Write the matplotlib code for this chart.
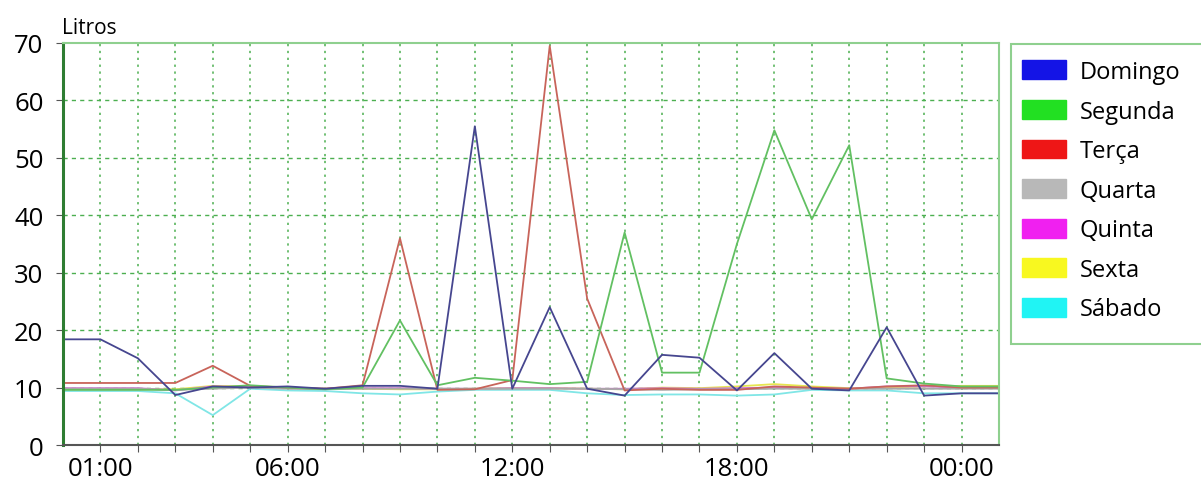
import matplotlib.pyplot as plt
from matplotlib.patches import Patch, Rectangle

# hora (0..25) e consumo em litros por dia da semana
hours = list(range(26))

domingo = [18.4, 18.4, 15.1, 8.7, 10.2, 10.0, 10.2, 9.8, 10.3, 10.3, 9.8, 55.5, 9.8,
           24.0, 9.8, 8.6, 15.7, 15.2, 9.5, 16.0, 9.8, 9.5, 20.5, 8.6, 9.0, 9.0]
segunda = [9.6, 9.6, 9.6, 9.6, 10.0, 10.4, 10.0, 9.7, 10.0, 21.7, 10.4, 11.7, 11.2,
           10.6, 11.0, 37.0, 12.6, 12.6, 35.0, 54.8, 39.3, 52.2, 11.6, 10.7, 10.2, 10.2]
terca = [10.8, 10.8, 10.8, 10.8, 13.8, 10.3, 10.0, 9.8, 10.4, 36.0, 9.6, 9.7, 11.3,
         69.5, 25.5, 9.5, 9.8, 9.6, 9.6, 10.2, 10.0, 9.8, 10.2, 10.4, 10.0, 10.0]
quarta = [9.8, 9.8, 9.8, 9.6, 9.8, 10.0, 9.8, 9.7, 9.8, 9.8, 9.8, 9.8, 9.8,
          9.8, 9.8, 9.7, 9.6, 9.7, 9.7, 9.8, 9.8, 9.8, 9.8, 9.8, 9.8, 9.8]
quinta = [9.9, 9.9, 9.9, 9.5, 10.2, 10.1, 9.9, 9.8, 9.9, 9.9, 9.8, 9.8, 9.9,
          9.9, 9.8, 9.8, 9.9, 9.8, 9.9, 10.0, 9.9, 9.8, 10.2, 10.2, 10.0, 10.0]
sexta = [9.7, 9.7, 9.7, 9.7, 10.3, 10.2, 9.9, 9.8, 9.8, 9.7, 9.7, 9.8, 9.9,
         9.9, 9.8, 9.7, 10.0, 9.9, 10.2, 10.6, 10.2, 9.9, 10.0, 10.2, 10.3, 10.3]
sabado = [9.4, 9.4, 9.4, 9.0, 5.2, 9.8, 9.5, 9.4, 9.0, 8.8, 9.3, 9.6, 9.6,
          9.6, 9.0, 8.7, 8.8, 8.8, 8.6, 8.8, 9.6, 9.5, 9.5, 9.0, 9.0, 9.0]

tick_hours = list(range(1, 25))
tick_labels = ["01:00" if h == 1 else "06:00" if h == 6 else "12:00" if h == 12
               else "18:00" if h == 18 else "00:00" if h == 24 else "" for h in tick_hours]

days = ["Domingo", "Segunda", "Terça", "Quarta", "Quinta", "Sexta", "Sábado"]
series = [domingo, segunda, terca, quarta, quinta, sexta, sabado]
line_colors = ["#46468f", "#62c062", "#c8645a", "#a8a8a8", "#d070d0", "#e6e650", "#80e6e6"]
legend_colors = ["#1414e6", "#22e022", "#ee1616", "#b8b8b8", "#f020f0", "#f8f820", "#20f4f4"]

plt.rcParams["font.family"] = ["Open Sans", "DejaVu Sans"]

fig = plt.figure(figsize=(12.01, 4.81), dpi=100)
ax = fig.add_axes([63 / 1201, 1 - 446 / 481, (999 - 63) / 1201, (446 - 44) / 481])

# ordem de desenho: linhas planas primeiro, picos por cima
for i in [6, 5, 4, 3, 2, 1, 0]:
    ax.plot(hours, series[i], color=line_colors[i], linewidth=1.3)

ax.set_xlim(0, 25)
ax.set_ylim(0, 70)
ax.set_xticks(tick_hours)
ax.set_xticklabels(tick_labels)
ax.set_yticks(range(0, 80, 10))

ax.tick_params(axis="both", labelsize=18.5, length=5, color="#555555")
ax.tick_params(axis="x", pad=3)
ax.tick_params(axis="y", pad=9)

for h in tick_hours:
    ax.axvline(h, color="#4caf50", linestyle=(0, (1.5, 3)), linewidth=1.1, zorder=0)
for v in range(10, 70, 10):
    ax.axhline(v, color="#4caf50", linestyle=(0, (3, 3)), linewidth=1.0, zorder=0)

ax.spines["left"].set_color("#2e7d32")
ax.spines["left"].set_linewidth(2.2)
ax.spines["bottom"].set_color("#555555")
ax.spines["bottom"].set_linewidth(1.5)
ax.spines["top"].set_color("#8fd08f")
ax.spines["top"].set_linewidth(1.5)
ax.spines["right"].set_color("#8fd08f")
ax.spines["right"].set_linewidth(1.5)

fig.text(62 / 1201, 1 - 28 / 481, "Litros", fontsize=15, va="center", ha="left")

# caixa da legenda (cortada na borda direita, como no original)
fig.patches.append(Rectangle((1011 / 1201, 1 - 345 / 481), 200 / 1201, 300 / 481,
                             transform=fig.transFigure, facecolor="white",
                             edgecolor="#8fd08f", linewidth=1.5))

handles = [Patch(facecolor=c, edgecolor=c) for c in legend_colors]
leg = fig.legend(handles, days, loc="upper left",
                 bbox_to_anchor=(1022 / 1201, 1 - 61 / 481),
                 fontsize=17, frameon=False,
                 handlelength=1.85, handleheight=0.85, labelspacing=0.66,
                 borderpad=0, handletextpad=0.6, borderaxespad=0)

fig.savefig("out.png", dpi=100)
